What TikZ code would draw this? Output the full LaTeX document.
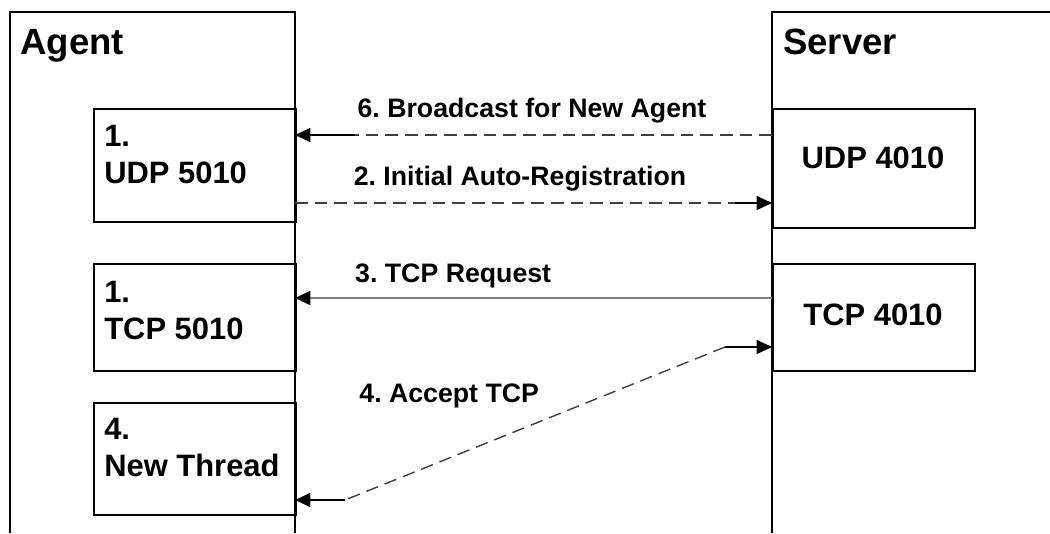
\documentclass[tikz,border=0pt]{standalone}
\usepackage{fontspec}
\setmainfont{Liberation Sans}
\usetikzlibrary{arrows.meta}
\frenchspacing

\begin{document}
\begin{tikzpicture}
    % Define page size
    \def\pageWidth{26.25}
    \def\pageHeight{13.325}

    \definecolor{borderColour}{HTML}{000000}
    \definecolor{dashColour}{HTML}{3F3F3F}
    \definecolor{requestColour}{HTML}{808080}

    \tikzset{
        portbox/.style={draw=borderColour, line width=1.1pt, rectangle, inner sep=0pt, anchor=north west},
        titletext/.style={anchor=base west, inner sep=0pt, font=\fontsize{26}{31}\selectfont\bfseries},
        porttext/.style={anchor=north west, inner sep=0pt, align=left, font=\fontsize{22}{26.5}\selectfont\bfseries},
        msgtext/.style={anchor=base, inner sep=0pt, font=\fontsize{19}{22}\selectfont\bfseries},
        msgdash/.style={line width=1pt, dashColour, dash pattern=on 9pt off 5pt},
        msgsolid/.style={line width=1pt, borderColour},
        msgtip/.style={-{Triangle[length=11pt,width=10pt,color=borderColour]}}
    }

    \useasboundingbox (0,0) rectangle (\pageWidth,\pageHeight);

    % Draw agent and server frames
    \draw[line width=1.1pt] (0.25,0) -- (0.25,13.025) -- (7.375,13.025) -- (7.375,0);
    \draw[line width=1.1pt] (19.3,0) -- (19.3,13.025) -- (\pageWidth,13.025);
    \node[titletext] (agentTitle) at (0.5,11.95) {Agent};
    \node[titletext] (serverTitle) at (19.575,11.95) {Server};

    % Draw agent ports
    \node[portbox, minimum width=5.05cm, minimum height=2.825cm] (udpAgent) at (2.325,10.625) {};
    \node[portbox, minimum width=5.05cm, minimum height=2.675cm] (tcpAgent) at (2.325,6.75) {};
    \node[portbox, minimum width=5.05cm, minimum height=2.8cm] (threadAgent) at (2.325,3.275) {};
    \node[porttext] (udpAgentText) at (2.6,10.2) {1.\\UDP 5010};
    \node[porttext] (tcpAgentText) at (2.6,6.3) {1.\\TCP 5010};
    \node[porttext] (threadAgentText) at (2.6,2.875) {4.\\New Thread};

    % Draw server ports
    \node[portbox, minimum width=5.05cm, minimum height=2.975cm] (udpServer) at (19.3,10.625) {};
    \node[portbox, minimum width=5.05cm, minimum height=2.675cm] (tcpServer) at (19.3,6.75) {};
    \node[porttext, anchor=base] (udpServerText) at (21.825,9.125) {UDP 4010};
    \node[porttext, anchor=base] (tcpServerText) at (21.825,5.2) {TCP 4010};

    % Define coordinates for messages
    \coordinate (bcastStart) at (19.3,9.95);
    \coordinate (bcastBend) at (8.875,9.95);
    \coordinate (bcastEnd) at (7.375,9.95);
    \coordinate (regStart) at (7.375,8.25);
    \coordinate (regBend) at (18.375,8.25);
    \coordinate (regEnd) at (19.3,8.25);
    \coordinate (reqStart) at (19.3,5.875);
    \coordinate (reqEnd) at (7.375,5.875);
    \coordinate (acceptServer) at (19.3,4.65);
    \coordinate (acceptServerBend) at (18.125,4.65);
    \coordinate (acceptAgentBend) at (8.625,0.825);
    \coordinate (acceptAgent) at (7.375,0.825);

    % Draw messages
    \draw[msgdash] (bcastStart) -- (bcastBend);
    \draw[msgsolid, msgtip] (bcastBend) -- (bcastEnd);
    \draw[msgdash] (regStart) -- (regBend);
    \draw[msgsolid, msgtip] (regBend) -- (regEnd);
    \draw[line width=1.4pt, requestColour, msgtip] (reqStart) -- (reqEnd);
    \draw[msgsolid, msgtip] (acceptServerBend) -- (acceptServer);
    \draw[msgdash] (acceptServerBend) -- (acceptAgentBend);
    \draw[msgsolid, msgtip] (acceptAgentBend) -- (acceptAgent);

    % Label messages
    \node[msgtext] (bcastLabel) at (13.3,10.4) {6. Broadcast for New Agent};
    \node[msgtext] (regLabel) at (13.0,8.7) {2. Initial Auto-Registration};
    \node[msgtext] (reqLabel) at (11.33,6.275) {3. TCP Request};
    \node[msgtext] (acceptLabel) at (11.23,3.275) {4. Accept TCP};

\end{tikzpicture}
\end{document}
